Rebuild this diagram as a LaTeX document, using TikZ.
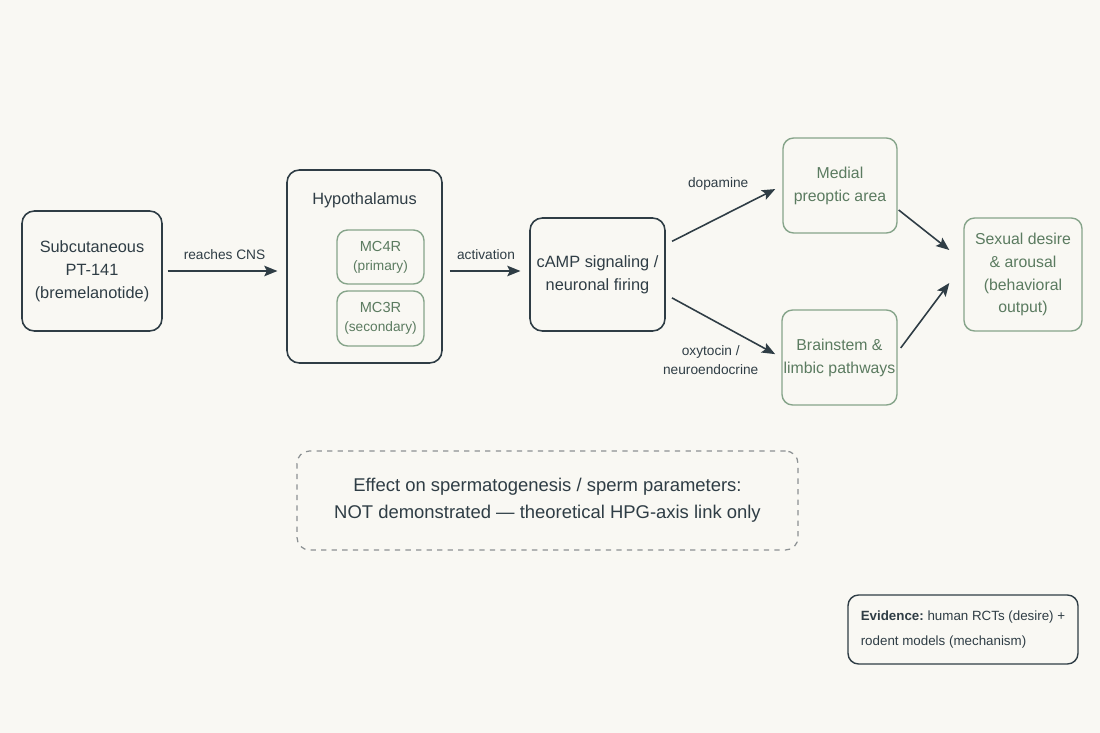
\documentclass[tikz,border=0pt]{standalone}
\usepackage{fontspec}
\setmainfont{Liberation Sans}
\usetikzlibrary{arrows.meta,positioning,calc}
\definecolor{PtInk}{HTML}{2F3D45}
\definecolor{PtGreen}{HTML}{5B7B60}
\definecolor{PtGreenLine}{HTML}{86A48A}
\definecolor{PtPaper}{HTML}{F9F8F3}
\definecolor{PtDash}{HTML}{8C9193}

\begin{document}
\begin{tikzpicture}[x=0.02cm,y=-0.02cm,
  box/.style={draw=PtInk,line width=0.9pt,rounded corners=7pt,align=center,text=PtInk,
    inner sep=0pt,font=\fontsize{9.3}{13}\selectfont},
  gbox/.style={draw=PtGreenLine,line width=0.8pt,rounded corners=6pt,align=center,text=PtGreen,
    inner sep=0pt,font=\fontsize{9}{13}\selectfont},
  rbox/.style={gbox,font=\fontsize{7.8}{11}\selectfont},
  arr/.style={draw=PtInk,line width=0.9pt,-{Stealth[length=7.5pt,width=6pt,inset=1.5pt]}},
  lbl/.style={text=PtInk,align=center,font=\fontsize{7.8}{10.8}\selectfont}]
  \fill[PtPaper] (0,0) rectangle (1100,733);
  \useasboundingbox (0,0) rectangle (1100,733);
  % main chain
  \node[box,minimum width=2.8cm,minimum height=2.4cm] (sub) at (92,271) {Subcutaneous\\PT-141\\(bremelanotide)};
  \node[box,minimum width=3.1cm,minimum height=3.86cm] (hyp) at (364.5,266.5) {};
  \node[text=PtInk,font=\fontsize{9.3}{13}\selectfont] (hyptitle) at (364.5,200) {Hypothalamus};
  \node[rbox,minimum width=1.74cm,minimum height=1.08cm] (mcfour) at (380.5,257) {{\fontsize{8.3}{11}\selectfont MC4R}\\(primary)};
  \node[rbox,minimum width=1.74cm,minimum height=1.1cm] (mcthree) at (380.5,318.5) {{\fontsize{8.3}{11}\selectfont MC3R}\\(secondary)};
  \node[box,minimum width=2.7cm,minimum height=2.26cm] (camp) at (597.5,274.5) {cAMP signaling /\\neuronal firing};
  % downstream regions
  \node[gbox,minimum width=2.28cm,minimum height=1.9cm] (mpoa) at (840,185.5) {Medial\\preoptic area};
  \node[gbox,minimum width=2.3cm,minimum height=1.9cm] (brain) at (839.5,357.5) {Brainstem \&\\limbic pathways};
  \node[gbox,minimum width=2.36cm,minimum height=2.26cm] (sex) at (1023,274.5) {Sexual desire\\\& arousal\\(behavioral\\output)};
  % notes
  \node[draw=PtDash,dashed,line width=0.7pt,rounded corners=7pt,minimum width=10.02cm,minimum height=1.98cm,
    align=center,text=PtInk,font=\fontsize{10.5}{15.5}\selectfont] (note) at (547.5,500.5)
    {Effect on spermatogenesis / sperm parameters:\\NOT demonstrated --- theoretical HPG-axis link only};
  \node[draw=PtInk,line width=0.8pt,rounded corners=6pt,minimum width=4.6cm,minimum height=1.38cm,
    align=left,text=PtInk,font=\fontsize{7.6}{14.5}\selectfont] (evid) at (963,629.5)
    {\textbf{Evidence:}~human RCTs (desire) +\\rodent models (mechanism)};
  % connectors
  \draw[arr,shorten <=2.8pt,shorten >=5pt] (sub.east) -- (sub.east -| hyp.west)
    node[lbl,midway,above=2.5pt] {reaches CNS};
  \draw[arr,shorten <=4pt,shorten >=5pt] (hyp.east |- sub.east) -- (camp.west |- sub.east)
    node[lbl,midway,above=2.5pt] {activation};
  \draw[arr,shorten <=4pt,shorten >=4.5pt] ($(camp.east)+(0,-30)$) -- (mpoa.west)
    node[lbl,pos=.45,above=12pt] {dopamine};
  \draw[arr,shorten <=4pt,shorten >=4pt] ($(camp.east)+(0,20)$) -- (brain.west)
    node[lbl,pos=.45,below=9pt,xshift=-4pt] {oxytocin /\\neuroendocrine};
  \draw[arr] ($(mpoa.east)+(1,24.5)$) -- ($(sex.west)+(-14,-24.5)$);
  \draw[arr] ($(brain.east)+(3,-9.5)$) -- ($(sex.west)+(-14,8.5)$);
\end{tikzpicture}
\end{document}
